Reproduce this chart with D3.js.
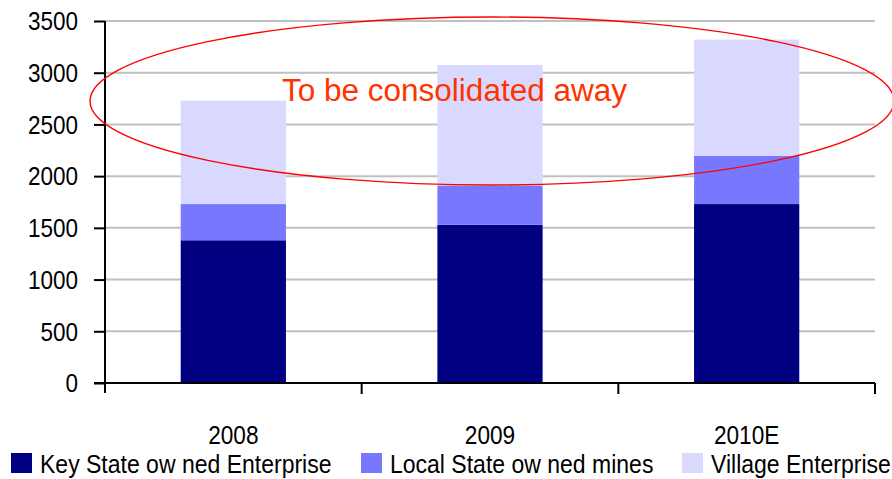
<!DOCTYPE html>
<html>
<head>
<meta charset="utf-8">
<script src="https://cdn.jsdelivr.net/npm/d3@7"></script>
<style>
  body { margin: 0; background: #fff; }
  svg text { font-family: "Liberation Sans", Arial, sans-serif; }
</style>
</head>
<body>
<svg id="chart" width="892" height="479"></svg>
<script>
var years = ['2008', '2009', '2010E'];
var key_state = [1380, 1530, 1730];
var local_state = [350, 380, 465];
var village = [1000, 1165, 1125];
var series_names = ['Key  State ow ned Enterprise', 'Local State ow ned mines', 'Village Enterprise'];
var series_colors = ['#000080', '#7878ff', '#d9d9ff'];
var y_ticks = [0, 500, 1000, 1500, 2000, 2500, 3000, 3500];
var note_text = 'To be consolidated away';

var plot_left = 105, plot_right = 875, plot_top = 21, plot_bottom = 383;

var svg = d3.select('#chart');

// squash text horizontally a bit, the way the original export looks
function squish(sel, k) {
  sel.each(function() {
    let w = this.getComputedTextLength();
    d3.select(this).attr('textLength', w * k).attr('lengthAdjust', 'spacingAndGlyphs');
  });
}

var x = d3.scaleBand().domain(years).range([plot_left, plot_right]).paddingInner(0.59).paddingOuter(0.295);
var y = d3.scaleLinear().domain([0, 3500]).range([plot_bottom, plot_top]);

// gridlines
svg.append('g').selectAll('line')
  .data(y_ticks.filter(d => d > 0))
  .enter().append('line')
    .attr('x1', plot_left).attr('x2', plot_right)
    .attr('y1', d => y(d)).attr('y2', d => y(d))
    .style('stroke', '#c0c0c0').style('stroke-width', 2);

// stacked bars
var rows = years.map(function(yr, i) {
  return {year: yr, s0: key_state[i], s1: local_state[i], s2: village[i]};
});
var stack = d3.stack().keys(['s0', 's1', 's2'])(rows);

svg.append('g').selectAll('g')
  .data(stack)
  .enter().append('g')
    .style('fill', (d, i) => series_colors[i])
  .selectAll('rect')
  .data(d => d)
  .enter().append('rect')
    .attr('x', d => x(d.data.year))
    .attr('width', x.bandwidth())
    .attr('y', d => y(d[1]))
    .attr('height', d => y(d[0]) - y(d[1]));

// y axis
var yAxis = svg.append('g')
  .attr('transform', 'translate(' + plot_left + ',0)')
  .call(d3.axisLeft(y).tickValues(y_ticks).tickSize(11).tickPadding(16).tickFormat(d3.format('d')));
yAxis.select('.domain').remove();
yAxis.selectAll('line').style('stroke', '#000').style('stroke-width', 2);
yAxis.selectAll('text').style('font-size', '25px').style('fill', '#000').attr('dy', '0.35em');
squish(yAxis.selectAll('text'), 0.9);
svg.append('line')
  .attr('x1', plot_left).attr('x2', plot_left).attr('y1', plot_top).attr('y2', plot_bottom + 10)
  .style('stroke', '#000').style('stroke-width', 2);

// x axis
var xAxis = svg.append('g')
  .attr('transform', 'translate(0,' + plot_bottom + ')')
  .call(d3.axisBottom(x).tickSize(0).tickPadding(43));
xAxis.select('.domain').remove();
xAxis.selectAll('text').style('font-size', '26px').style('fill', '#000');
squish(xAxis.selectAll('text'), 0.87);
svg.append('line')
  .attr('x1', plot_left - 11).attr('x2', plot_right).attr('y1', plot_bottom).attr('y2', plot_bottom)
  .style('stroke', '#000').style('stroke-width', 2);
svg.append('g').selectAll('line')
  .data(d3.range(1, years.length + 1))
  .enter().append('line')
    .attr('x1', i => plot_left + i * x.step()).attr('x2', i => plot_left + i * x.step())
    .attr('y1', plot_bottom).attr('y2', plot_bottom + 11)
    .style('stroke', '#000').style('stroke-width', 2);

// annotation
svg.append('ellipse')
  .attr('cx', 492).attr('cy', 101).attr('rx', 402).attr('ry', 84)
  .style('fill', 'none').style('stroke', '#ff0000').style('stroke-width', 1.4);
var note = svg.append('text')
  .attr('x', 282).attr('y', 101)
  .style('font-size', '31px').style('fill', '#ff3300')
  .text(note_text);
note.attr('textLength', 345).attr('lengthAdjust', 'spacingAndGlyphs');

// legend
var legend_x = [11, 361, 682];
var lg = svg.append('g').selectAll('g')
  .data(series_names)
  .enter().append('g')
    .attr('transform', (d, i) => 'translate(' + legend_x[i] + ',453)');
lg.append('rect')
  .attr('width', 21).attr('height', 20)
  .style('fill', (d, i) => series_colors[i]);
lg.append('text')
  .attr('x', 29).attr('y', 20)
  .style('font-size', '25px').style('fill', '#000')
  .text(d => d);
squish(lg.selectAll('text'), 0.92);
</script>
</body>
</html>
